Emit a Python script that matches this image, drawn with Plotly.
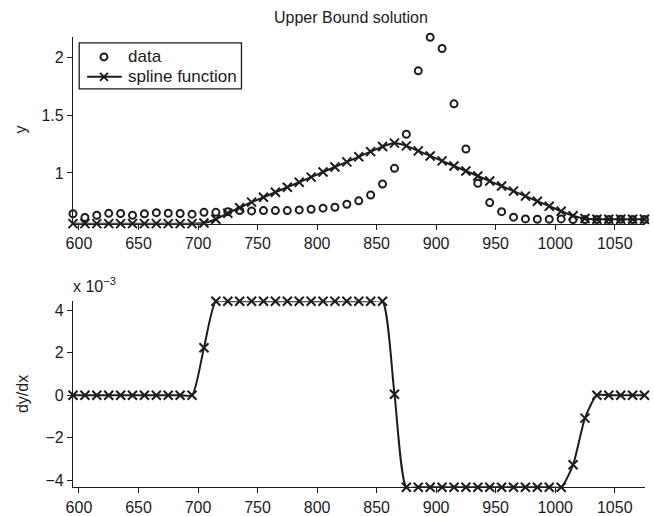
import plotly.graph_objects as go

# ---------------- data ----------------
x_vals = [595, 605, 615, 625, 635, 645, 655, 665, 675, 685, 695, 705, 715, 725, 735,
          745, 755, 765, 775, 785, 795, 805, 815, 825, 835, 845, 855, 865, 875, 885,
          895, 905, 915, 925, 935, 945, 955, 965, 975, 985, 995, 1005, 1015, 1025,
          1035, 1045, 1055, 1065, 1075]

data_y = [0.648, 0.615, 0.635, 0.651, 0.650, 0.635, 0.648, 0.657, 0.652, 0.650,
          0.644, 0.660, 0.660, 0.666, 0.676, 0.672, 0.675, 0.675, 0.675, 0.681,
          0.687, 0.696, 0.704, 0.730, 0.759, 0.810, 0.905, 1.040, 1.334, 1.882,
          2.172, 2.075, 1.597, 1.207, 0.911, 0.744, 0.666, 0.618, 0.603, 0.600,
          0.600, 0.603, 0.597, 0.597, 0.597, 0.597, 0.600, 0.597, 0.597]

spline_y = [0.562, 0.562, 0.562, 0.562, 0.562, 0.562, 0.562, 0.562, 0.562, 0.562,
            0.562, 0.568, 0.600, 0.652, 0.700, 0.748, 0.790, 0.833, 0.877, 0.920,
            0.964, 1.008, 1.052, 1.096, 1.140, 1.184, 1.228, 1.258, 1.234, 1.191,
            1.147, 1.104, 1.060, 1.017, 0.974, 0.930, 0.887, 0.843, 0.800, 0.756,
            0.713, 0.669, 0.631, 0.607, 0.600, 0.600, 0.600, 0.600, 0.600]

# derivative, in units of 1e-3
dydx_e3 = [0, 0, 0, 0, 0, 0, 0, 0, 0, 0, 0, 2.24,
           4.43, 4.43, 4.43, 4.43, 4.43, 4.43, 4.43, 4.43, 4.43, 4.43, 4.43, 4.43,
           4.43, 4.43, 4.43, 0.05,
           -4.34, -4.34, -4.34, -4.34, -4.34, -4.34, -4.34, -4.34, -4.34, -4.34,
           -4.34, -4.34, -4.34, -4.34, -3.28, -1.08, 0, 0, 0, 0, 0]

x_ticks = [600, 650, 700, 750, 800, 850, 900, 950, 1000, 1050]
y1_ticks = [1, 1.5, 2]
y2_ticks = [-4, -2, 0, 2, 4]
legend_labels = ["data", "spline function"]

# ---------------- style ----------------
W, H = 654, 516
INK = "#1c1c1c"
FONT = "Liberation Sans, Arial, Helvetica, sans-serif"
FS = 16


def px(xp):
    return xp / W


def py(yp):
    return 1 - yp / H


fig = go.Figure()

fig.add_trace(go.Scatter(
    x=x_vals, y=data_y, mode="markers", name=legend_labels[0], showlegend=False,
    marker=dict(symbol="circle-open", size=7, color=INK, line=dict(width=2, color=INK)),
    cliponaxis=False, xaxis="x", yaxis="y"))

fig.add_trace(go.Scatter(
    x=x_vals, y=spline_y, mode="lines+markers", name=legend_labels[1], showlegend=False,
    line=dict(color=INK, width=2, shape="spline", smoothing=0.5),
    marker=dict(symbol="x-thin-open", size=9, color=INK, line=dict(width=2, color=INK)),
    cliponaxis=False, xaxis="x", yaxis="y"))

fig.add_trace(go.Scatter(
    x=x_vals, y=dydx_e3, mode="lines+markers", name="dydx", showlegend=False,
    line=dict(color=INK, width=2, shape="spline", smoothing=0.6),
    marker=dict(symbol="x-thin-open", size=9, color=INK, line=dict(width=2, color=INK)),
    cliponaxis=False, xaxis="x2", yaxis="y2"))

xdom = [66.7 / W, 644.4 / W]
axis_common = dict(showline=True, linecolor=INK, linewidth=1.3, ticks="outside",
                   ticklen=5, tickwidth=1.3, tickcolor=INK, showgrid=False,
                   zeroline=False, tickfont=dict(family=FONT, size=FS, color=INK))

# legend (drawn as a boxed key in the upper-left corner of the top panel)
lg_x0, lg_x1, lg_y0, lg_y1 = 73, 237, 43, 89
row1, row2 = 57, 77
sym_x = 98
shapes = [
    dict(type="rect", xref="paper", yref="paper", x0=px(lg_x0), x1=px(lg_x1),
         y0=py(lg_y1), y1=py(lg_y0), line=dict(color=INK, width=1.3), fillcolor="white",
         layer="above"),
    dict(type="circle", xref="paper", yref="paper", x0=px(sym_x - 3.5), x1=px(sym_x + 3.5),
         y0=py(row1 + 3.5), y1=py(row1 - 3.5), line=dict(color=INK, width=2), layer="above"),
    dict(type="line", xref="paper", yref="paper", x0=px(81), x1=px(116),
         y0=py(row2), y1=py(row2), line=dict(color=INK, width=2), layer="above"),
    dict(type="line", xref="paper", yref="paper", x0=px(sym_x - 4), x1=px(sym_x + 4),
         y0=py(row2 - 4), y1=py(row2 + 4), line=dict(color=INK, width=2), layer="above"),
    dict(type="line", xref="paper", yref="paper", x0=px(sym_x - 4), x1=px(sym_x + 4),
         y0=py(row2 + 4), y1=py(row2 - 4), line=dict(color=INK, width=2), layer="above"),
]

annotations = [
    dict(text="Upper Bound solution", x=px(348), y=py(18), xref="paper", yref="paper",
         xanchor="center", yanchor="middle", showarrow=False,
         font=dict(family=FONT, size=FS, color=INK)),
    dict(text="y", x=px(14), y=py(130), xref="paper", yref="paper",
         xanchor="center", yanchor="middle", textangle=-90, showarrow=False,
         font=dict(family=FONT, size=FS, color=INK)),
    dict(text="dy/dx", x=px(15), y=py(395), xref="paper", yref="paper",
         xanchor="center", yanchor="middle", textangle=-90, showarrow=False,
         font=dict(family=FONT, size=FS, color=INK)),
    dict(text="x 10<sup>−3</sup>", x=px(65), y=py(298), xref="paper", yref="paper",
         xanchor="left", yanchor="bottom", showarrow=False,
         font=dict(family=FONT, size=FS, color=INK)),
    dict(text=legend_labels[0], x=px(120), y=py(row1), xref="paper", yref="paper",
         xanchor="left", yanchor="middle", showarrow=False,
         font=dict(family=FONT, size=17, color=INK)),
    dict(text=legend_labels[1], x=px(120), y=py(row2), xref="paper", yref="paper",
         xanchor="left", yanchor="middle", showarrow=False,
         font=dict(family=FONT, size=17, color=INK)),
]

fig.update_layout(
    width=W, height=H,
    margin=dict(l=0, r=0, t=0, b=0),
    paper_bgcolor="white", plot_bgcolor="white",
    font=dict(family=FONT, size=FS, color=INK),
    xaxis=dict(domain=xdom, range=[595, 1075], tickvals=x_ticks, anchor="y", **axis_common),
    yaxis=dict(domain=[1 - 224.1 / H, 1 - 37.35 / H], range=[0.562, 2.172],
               tickvals=y1_ticks, ticktext=["1", "1.5", "2"], anchor="x", **axis_common),
    xaxis2=dict(domain=xdom, range=[595, 1075], tickvals=x_ticks, anchor="y2", **axis_common),
    yaxis2=dict(domain=[1 - 488.2 / H, 1 - 301.9 / H], range=[-4.34, 4.43],
                tickvals=y2_ticks, anchor="x2", **axis_common),
    showlegend=False,
    shapes=shapes,
    annotations=annotations,
)

fig.write_html("out.html")
